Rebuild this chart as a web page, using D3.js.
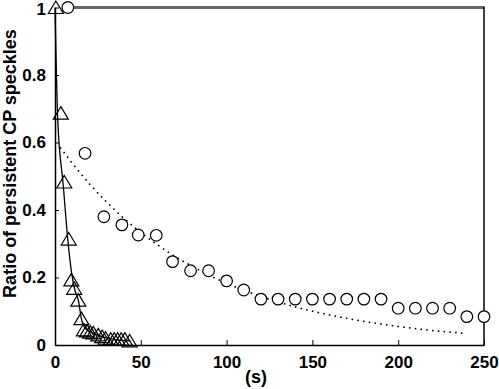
<!DOCTYPE html>
<html>
<head>
<meta charset="utf-8">
<script src="https://cdn.jsdelivr.net/npm/d3@7"></script>
<style>
  html, body { margin: 0; padding: 0; background: #fff; }
  svg { display: block; }
  text { font-family: "Liberation Sans", Arial, sans-serif; font-weight: bold; fill: #000; }
</style>
</head>
<body>
<svg id="chart" width="499" height="389"></svg>
<script>
// ---- data ----
const circleX = [7.5, 17.5, 28.5, 39, 48.5, 59, 68.5, 79, 89.5, 100, 110, 120, 130, 140, 150, 160, 170, 180, 190, 200, 210, 220, 230, 240, 250];
const circleY = [1.0, 0.568, 0.38, 0.356, 0.326, 0.325, 0.247, 0.22, 0.22, 0.19, 0.163, 0.136, 0.136, 0.136, 0.136, 0.136, 0.136, 0.136, 0.136, 0.109, 0.109, 0.109, 0.109, 0.084, 0.084];

const triX = [0.5, 3.4, 5.4, 8.0, 9.5, 11.2, 13.6, 15.4, 16.8, 18.6, 20.5, 22.3, 25.2, 27.5, 29.5, 32.5, 34.5, 36.5, 38.6, 40.7, 43.5];
const triY = [1.0, 0.687, 0.483, 0.314, 0.193, 0.168, 0.133, 0.078, 0.045, 0.042, 0.038, 0.036, 0.03, 0.025, 0.02, 0.017, 0.017, 0.017, 0.017, 0.017, 0.012];

const fitSolidX = [0, 1.6, 4.8, 7.5, 9.7, 11.7, 13.6, 15.5, 17.5, 22, 28, 35, 44];
const fitSolidY = [1.0, 0.667, 0.474, 0.31, 0.213, 0.16, 0.133, 0.075, 0.05, 0.036, 0.024, 0.016, 0.012];

const fitDotX = [3, 10, 20, 30, 40, 50, 60, 70, 80, 90, 100, 110, 120, 140, 160, 180, 200, 220, 238];
const fitDotY = [0.586, 0.539, 0.478, 0.424, 0.376, 0.333, 0.296, 0.262, 0.233, 0.206, 0.183, 0.162, 0.144, 0.113, 0.089, 0.070, 0.055, 0.043, 0.035];

const xTicks = [0, 50, 100, 150, 200, 250];
const yTicks = [0, 0.2, 0.4, 0.6, 0.8, 1];
const yTickLabels = ["0", "0.2", "0.4", "0.6", "0.8", "1"];
const xTitle = "(s)";
const yTitle = "Ratio of persistent CP speckles";

// ---- drawing ----
const svg = d3.select("#chart");
const x = d3.scaleLinear().domain([0, 250]).range([55, 484]);
const y = d3.scaleLinear().domain([0, 1]).range([345, 7.5]);

// top frame (gray) and right frame
svg.append("line")
  .attr("x1", x(circleX[0])).attr("x2", x(250))
  .attr("y1", y(1)).attr("y2", y(1))
  .attr("stroke", "#666").attr("stroke-width", 3);
svg.append("line")
  .attr("x1", x(250)).attr("x2", x(250))
  .attr("y1", y(1) - 1).attr("y2", y(0))
  .attr("stroke", "#000").attr("stroke-width", 1.5);

// axes
const xAxis = d3.axisBottom(x).tickValues(xTicks).tickSizeInner(-5).tickSizeOuter(0).tickPadding(11).tickFormat(d3.format("d"));
const gx = svg.append("g").attr("transform", `translate(0,${y(0)})`).call(xAxis);
gx.select(".domain").attr("stroke", "#000").attr("stroke-width", 1.5);
gx.selectAll(".tick line").attr("stroke", "#000").attr("stroke-width", 1);
gx.selectAll(".tick text").style("font-size", "17px").attr("font-family", null);

const yAxis = d3.axisLeft(y).tickValues(yTicks).tickSizeInner(-4).tickSizeOuter(0).tickPadding(9)
  .tickFormat((d, i) => yTickLabels[i]);
const gy = svg.append("g").attr("transform", `translate(${x(0)},0)`).call(yAxis);
gy.select(".domain").attr("stroke", "#000").attr("stroke-width", 1.5);
gy.selectAll(".tick line").attr("stroke", "#000").attr("stroke-width", 1);
gy.selectAll(".tick text").style("font-size", "17px").attr("font-family", null)
  .attr("dy", d => d === 1 ? "0.42em" : "0.32em");

// axis titles
svg.append("text")
  .attr("x", 256).attr("y", 383)
  .attr("text-anchor", "middle")
  .style("font-size", "18px")
  .text(xTitle);
svg.append("text")
  .attr("transform", "translate(16,163.5) rotate(-90)")
  .attr("text-anchor", "middle")
  .style("font-size", "18px")
  .text(yTitle);

// fit lines
const line = d3.line().x(d => x(d[0])).y(d => y(d[1])).curve(d3.curveMonotoneX);
svg.append("path")
  .datum(fitDotX.map((v, i) => [v, fitDotY[i]]))
  .attr("d", line)
  .attr("fill", "none").attr("stroke", "#000").attr("stroke-width", 1.6)
  .attr("stroke-dasharray", "1.6,4.2");
svg.append("path")
  .datum(fitSolidX.map((v, i) => [v, fitSolidY[i]]))
  .attr("d", line)
  .attr("fill", "none").attr("stroke", "#000").attr("stroke-width", 1.3);

// triangles
svg.append("g").selectAll("path")
  .data(triX.map((v, i) => [v, triY[i]]))
  .join("path")
  .attr("transform", d => `translate(${x(d[0])},${y(d[1])})`)
  .attr("d", "M0,-6.5L7.5,6L-7.5,6Z")
  .attr("fill", "none").attr("stroke", "#000").attr("stroke-width", 1.2);

// circles
svg.append("g").selectAll("circle")
  .data(circleX.map((v, i) => [v, circleY[i]]))
  .join("circle")
  .attr("cx", d => x(d[0])).attr("cy", d => y(d[1]))
  .attr("r", 5.8)
  .attr("fill", "#fff").attr("stroke", "#000").attr("stroke-width", 1.2);
</script>
</body>
</html>
